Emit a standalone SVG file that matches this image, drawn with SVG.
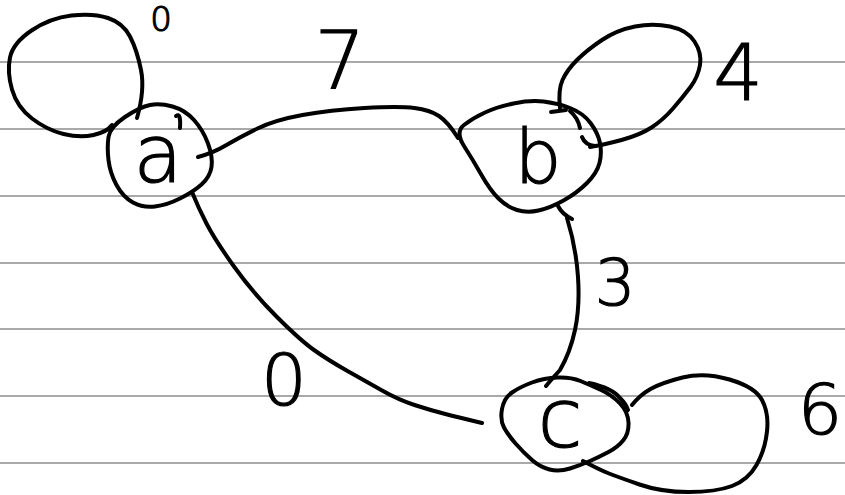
<svg xmlns="http://www.w3.org/2000/svg" width="845" height="495" viewBox="0 0 845 495">
<style>
.rule{stroke:#555;stroke-width:1.2}
.ink{fill:none;stroke:#000;stroke-width:4;stroke-linecap:round;stroke-linejoin:round}
.lbl{font-family:"DejaVu Sans","Liberation Sans",Arial,sans-serif;font-weight:200;fill:#000;stroke:#000;stroke-width:1.2;text-anchor:middle}
</style>
<rect width="845" height="495" fill="#fff"/>
<g id="rules">
<line class="rule" x1="0" y1="62" x2="845" y2="62"/>
<line class="rule" x1="0" y1="129" x2="845" y2="129"/>
<line class="rule" x1="0" y1="196" x2="845" y2="196"/>
<line class="rule" x1="0" y1="263" x2="845" y2="263"/>
<line class="rule" x1="0" y1="329" x2="845" y2="329"/>
<line class="rule" x1="0" y1="396" x2="845" y2="396"/>
<line class="rule" x1="0" y1="463" x2="845" y2="463"/>
</g>
<g id="connectors">
<path class="ink" d="M198,157 Q213,153 226.5,145 Q240,137 257.5,128.5 Q275,120 302.5,115 Q330,110 364.5,108 Q399,106 414.5,108 Q430,110 439,116 Q448,122 458,138"/>
<path class="ink" d="M192,192 Q198,207 206.5,223.5 Q215,240 234,266.5 Q253,293 276.5,316.5 Q300,340 314,350 Q328,360 347.5,371 Q367,382 383,391 Q399,400 414.5,405 Q430,410 443.5,413.5 Q457,417 482,423"/>
<path class="ink" d="M558,206 Q562,214 572,219"/>
<path class="ink" d="M567,218 Q576,247 578,277 Q580,307 575,330 Q570,353 560,370 Q551,380 546,386"/>
<path class="ink" d="M137,118 Q145,90 141,70 Q137,50 130,36.5 Q123,23 108,18 Q93,13 71.5,15.5 Q50,18 31.5,30.5 Q13,43 10,57.5 Q7,72 12,89.5 Q17,107 32,118.5 Q47,130 63.5,134 Q80,138 93.5,135 Q107,132 112,125"/>
<path class="ink" d="M560,108 Q558,90 562.5,80 Q567,70 577,60 Q587,50 602,40 Q617,30 635,26.5 Q653,23 670,26.5 Q687,30 694.5,41.5 Q702,53 700,65 Q698,77 690.5,87 Q683,97 673,108.5 Q663,120 651.5,127.5 Q640,135 621.5,140 Q603,145 590,147"/>
<path class="ink" d="M582,137 Q585,145 595,146"/>
<path class="ink" d="M551,112 L566,110"/>
<path class="ink" d="M570,111 Q578,118 580,128"/>
<path class="ink" d="M583,461 Q600,470 609,473.5 Q618,477 639.5,484.5 Q661,492 688.5,492 Q716,492 732,486 Q748,480 756.5,465 Q765,450 767,431.5 Q769,413 762,400 Q755,387 729.5,379.5 Q704,372 682.5,377.5 Q661,383 650.5,389 Q640,395 632,405"/>
<path class="ink" d="M589,383 Q612,388 620,398 Q626,404 628,410"/>
<path class="ink" d="M176,116 Q181,112 180,128"/>
</g>
<g id="node-a">
<path class="ink" d="M125,117 Q140,107 150,105 Q160,103 172.5,106.5 Q185,110 194,120 Q203,130 208,143.5 Q213,157 211.5,167 Q210,177 201.5,184.5 Q193,192 180,198.5 Q167,205 155,206.5 Q143,208 133,202.5 Q123,197 116.5,185 Q110,173 108.5,160 Q107,147 108.5,137 Q110,127 125,117 Z"/>
<text class="lbl" x="158" y="182" font-size="80">a</text>
</g>
<g id="node-b">
<path class="ink" d="M464,146 Q473,160 481.5,175 Q490,190 498.5,198.5 Q507,207 517,210 Q527,213 538.5,210.5 Q550,208 563.5,200.5 Q577,193 587,183 Q597,173 599.5,163 Q602,153 600,143 Q598,133 590.5,123 Q583,113 570,108 Q557,103 543.5,101.5 Q530,100 513.5,103.5 Q497,107 485,112.5 Q473,118 464,125 Q455,132 464,146 Z"/>
<text class="lbl" x="538" y="183" font-size="74">b</text>
</g>
<g id="node-c">
<path class="ink" d="M502,409 Q504,398 512,392.5 Q520,387 532,382.5 Q544,378 557.5,377.5 Q571,377 580.5,381 Q590,385 601,390 Q612,395 620,403.5 Q628,412 628.5,422.5 Q629,433 623.5,440 Q618,447 608.5,452 Q599,457 590,461 Q581,465 570,468.5 Q559,472 549.5,469.5 Q540,467 532,460 Q524,453 516,444 Q508,435 504,427.5 Q500,420 502,409 Z"/>
<text class="lbl" x="560" y="447" font-size="82">c</text>
</g>
<g id="labels">
<text class="lbl" x="161" y="31" font-size="34" stroke-width="2">0</text>
<text class="lbl" x="340" y="88" font-size="80">7</text>
<text class="lbl" x="738" y="100" font-size="78">4</text>
<text class="lbl" x="615" y="305" font-size="64">3</text>
<text class="lbl" x="284" y="405" font-size="72">0</text>
<text class="lbl" x="820" y="434" font-size="70">6</text>
</g>
</svg>
